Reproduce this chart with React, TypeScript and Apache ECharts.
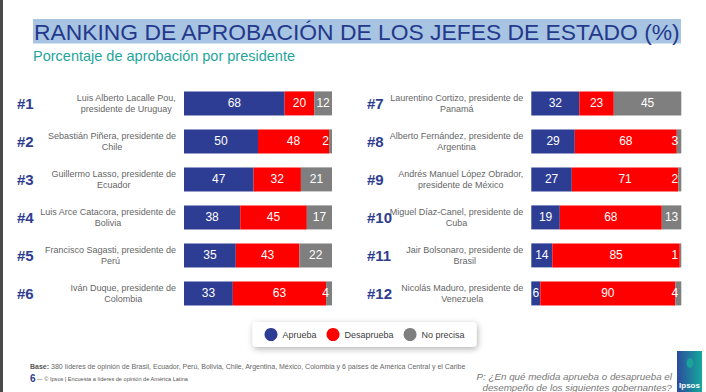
import React, { useEffect, useRef } from 'react';
import * as echarts from 'echarts';

const ranksLeft = ['#1', '#2', '#3', '#4', '#5', '#6'];
const ranksRight = ['#7', '#8', '#9', '#10', '#11', '#12'];
const namesLeft = [
  'Luis Alberto Lacalle Pou,\npresidente de Uruguay',
  'Sebastián Piñera, presidente de\nChile',
  'Guillermo Lasso, presidente de\nEcuador',
  'Luis Arce Catacora, presidente de\nBolivia',
  'Francisco Sagasti, presidente de\nPerú',
  'Iván Duque, presidente de\nColombia',
];
const namesRight = [
  'Laurentino Cortizo, presidente de\nPanamá',
  'Alberto Fernández, presidente de\nArgentina',
  'Andrés Manuel López Obrador,\npresidente de México',
  'Miguel Díaz-Canel, presidente de\nCuba',
  'Jair Bolsonaro, presidente de\nBrasil',
  'Nicolás Maduro, presidente de\nVenezuela',
];
const apruebaLeft = [68, 50, 47, 38, 35, 33];
const desapruebaLeft = [20, 48, 32, 45, 43, 63];
const noPrecisaLeft = [12, 2, 21, 17, 22, 4];
const apruebaRight = [32, 29, 27, 19, 14, 6];
const desapruebaRight = [23, 68, 71, 68, 85, 90];
const noPrecisaRight = [45, 3, 2, 13, 1, 4];
const seriesNames = ['Aprueba', 'Desaprueba', 'No precisa'];

const FONT = '"Liberation Sans", Arial, Helvetica, sans-serif';
const BLUE = '#2e3d94';
const RED = '#ff0000';
const GREY = '#7f7f7f';

function withLabels(vals: number[]) {
  return vals.map((v) =>
    v < 5 ? { value: v, label: { position: 'insideRight', distance: 3 } } : { value: v }
  );
}

function nameFormatter(v: string) {
  return v
    .split('\n')
    .map((l) => `{n|${l}}`)
    .join('\n');
}

export default function App() {
  const ref = useRef<HTMLDivElement>(null);
  useEffect(() => {
    if (!ref.current) return;
    const chart = echarts.init(ref.current, undefined, { renderer: 'svg' });
    const gridTop = 84.4;
    const gridH = 228;
    const grids = [
      { left: 184, top: gridTop, width: 148, height: gridH },
      { left: 531.3, top: gridTop, width: 150, height: gridH },
    ];
    const nameAxis = (gi: number, data: string[]) => ({
      type: 'category',
      gridIndex: gi,
      data,
      inverse: true,
      axisLine: { show: false },
      axisTick: { show: false },
      splitLine: { show: false },
      axisLabel: {
        align: 'right',
        margin: 8,
        formatter: nameFormatter,
        rich: {
          n: { align: 'center', fontSize: 9, lineHeight: 11, color: '#666', fontFamily: FONT },
        },
      },
    });
    const rankAxis = (gi: number, data: string[], margin: number) => ({
      type: 'category',
      gridIndex: gi,
      data,
      inverse: true,
      position: 'left',
      axisLine: { show: false },
      axisTick: { show: false },
      splitLine: { show: false },
      axisLabel: {
        align: 'left',
        margin,
        fontSize: 15,
        fontWeight: 'bold',
        color: '#2e3d8f',
        fontFamily: FONT,
        padding: [0, 0, 10, 0],
      },
    });
    const mkSeries = (name: string, vals: number[], color: string, gi: number) => ({
      type: 'bar',
      name,
      stack: 'g' + gi,
      xAxisIndex: gi,
      yAxisIndex: gi * 2,
      barWidth: 24,
      itemStyle: { color },
      label: {
        show: true,
        position: 'inside',
        color: '#fff',
        fontSize: 12,
        fontFamily: FONT,
      },
      emphasis: { disabled: true },
      data: withLabels(vals),
    });
    chart.setOption({
      animation: false,
      backgroundColor: '#ffffff',
      textStyle: { fontFamily: FONT },
      title: [
        {
          text: 'RANKING DE APROBACIÓN DE LOS JEFES DE ESTADO (%)',
          left: 34,
          top: 20,
          padding: 0,
          textStyle: { fontSize: 22.85, fontWeight: 'normal', color: '#24398c', fontFamily: FONT },
        },
        {
          text: 'Porcentaje de aprobación por presidente',
          left: 33,
          top: 48,
          padding: 0,
          textStyle: { fontSize: 14.5, fontWeight: 'normal', color: '#1fa59b', fontFamily: FONT },
        },
      ],
      legend: {
        data: seriesNames,
        left: 252.5,
        top: 322,
        icon: 'circle',
        itemWidth: 13,
        itemHeight: 13,
        itemGap: 10,
        padding: [6, 12],
        backgroundColor: '#ffffff',
        borderRadius: 4,
        shadowBlur: 6,
        shadowColor: 'rgba(0,0,0,0.3)',
        shadowOffsetX: 1,
        shadowOffsetY: 2,
        selectedMode: false,
        textStyle: { fontSize: 9, color: '#404040', fontFamily: FONT },
      },
      grid: grids,
      xAxis: [0, 1].map((gi) => ({
        type: 'value',
        gridIndex: gi,
        min: 0,
        max: 100,
        show: false,
      })),
      yAxis: [
        nameAxis(0, namesLeft),
        rankAxis(0, ranksLeft, 167),
        nameAxis(1, namesRight),
        rankAxis(1, ranksRight, 164.3),
      ],
      series: [
        mkSeries(seriesNames[0], apruebaLeft, BLUE, 0),
        mkSeries(seriesNames[1], desapruebaLeft, RED, 0),
        mkSeries(seriesNames[2], noPrecisaLeft, GREY, 0),
        mkSeries(seriesNames[0], apruebaRight, BLUE, 1),
        mkSeries(seriesNames[1], desapruebaRight, RED, 1),
        mkSeries(seriesNames[2], noPrecisaRight, GREY, 1),
      ],
      graphic: [
        {
          type: 'rect',
          z: -10,
          shape: { x: 33, y: 19, width: 648, height: 24.5 },
          style: { fill: '#a7c4e2' },
        },
        {
          type: 'rect',
          shape: { x: 0, y: 0, width: 3, height: 392 },
          style: { fill: '#4a4a4a' },
        },
        {
          type: 'text',
          x: 30,
          y: 366,
          style: {
            text: '{b|Base:} 380 líderes de opinión de Brasil, Ecuador, Perú, Bolivia, Chile, Argentina, México, Colombia y 6 países de América Central y el Caribe',
            fill: '#666',
            fontSize: 7,
            fontFamily: FONT,
            verticalAlign: 'middle',
            rich: { b: { fontWeight: 'bold', fontSize: 7, fill: '#555', fontFamily: FONT } },
          },
        },
        {
          type: 'text',
          x: 30,
          y: 378.5,
          style: {
            text: '{s|6} — © Ipsos | Encuesta a líderes de opinión de América Latina',
            fill: '#555',
            fontSize: 5.6,
            fontFamily: FONT,
            verticalAlign: 'middle',
            rich: { s: { fontWeight: 'bold', fontSize: 10, fill: '#2e3d8f', fontFamily: FONT } },
          },
        },
        {
          type: 'text',
          x: 672,
          y: 371.5,
          style: {
            text: 'P: ¿En qué medida aprueba o desaprueba el\ndesempeño de los siguientes gobernantes?',
            fill: '#777',
            fontSize: 9.8,
            fontStyle: 'italic',
            lineHeight: 10.5,
            fontFamily: FONT,
            align: 'right',
            verticalAlign: 'top',
          },
        },
        {
          type: 'rect',
          shape: { x: 677, y: 351, width: 25, height: 42 },
          style: {
            fill: new echarts.graphic.LinearGradient(0, 0, 1, 0, [
              { offset: 0, color: '#2d4a9e' },
              { offset: 1, color: '#14a99b' },
            ]),
          },
        },
        {
          type: 'ellipse',
          shape: { cx: 690, cy: 363, rx: 3.5, ry: 5 },
          style: { fill: '#1aa39b' },
        },
        {
          type: 'text',
          x: 689.5,
          y: 385,
          style: {
            text: 'Ipsos',
            fill: '#fff',
            fontSize: 8,
            fontWeight: 'bold',
            fontFamily: FONT,
            align: 'center',
            verticalAlign: 'middle',
          },
        },
      ],
    });
    return () => chart.dispose();
  }, []);
  return (
    <div
      ref={ref}
      style={{ position: 'fixed', left: 0, top: 0, width: 706, height: 392, background: '#fff' }}
    />
  );
}
